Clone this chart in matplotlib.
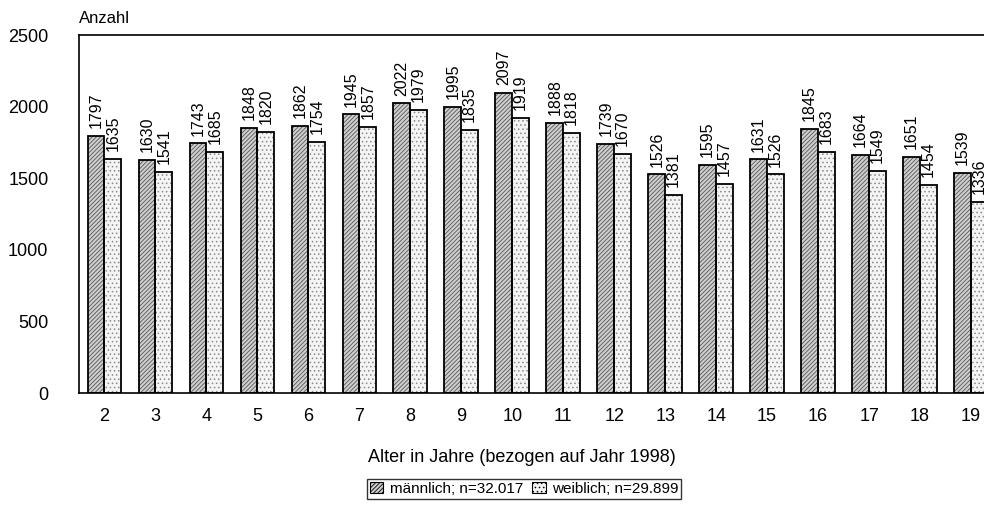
import matplotlib
matplotlib.use("Agg")
import matplotlib.pyplot as plt
import numpy as np

plt.rcParams['font.family'] = ['Liberation Sans', 'DejaVu Sans']
plt.rcParams['hatch.linewidth'] = 0.6

ages = [2, 3, 4, 5, 6, 7, 8, 9, 10, 11, 12, 13, 14, 15, 16, 17, 18, 19]
male = [1797, 1630, 1743, 1848, 1862, 1945, 2022, 1995, 2097, 1888, 1739, 1526, 1595, 1631, 1845, 1664, 1651, 1539]
female = [1635, 1541, 1685, 1820, 1754, 1857, 1979, 1835, 1919, 1818, 1670, 1381, 1457, 1526, 1683, 1549, 1454, 1336]
label_m = "männlich; n=32.017"
label_f = "weiblich; n=29.899"
yticks = [0, 500, 1000, 1500, 2000, 2500]

fig = plt.figure(figsize=(9.84, 5.23), dpi=100)
ax = fig.add_axes([79/984, 130/523, 917.5/984, 358/523])

x = np.arange(len(ages))
w = 0.33
# filled + hatched bars (hatch colour = edgecolor), then black outlines
bm = ax.bar(x - w/2, male, w, facecolor='#cfcfcf', edgecolor='#555555', hatch='////////',
            linewidth=0, label=label_m)
bf = ax.bar(x + w/2, female, w, facecolor='#f4f4f4', edgecolor='#8a8a8a', hatch='....',
            linewidth=0, label=label_f)
ax.bar(x - w/2, male, w, fill=False, edgecolor='black', linewidth=1.3)
ax.bar(x + w/2, female, w, fill=False, edgecolor='black', linewidth=1.3)

for xi, v in zip(x - w/2, male):
    ax.text(xi, v + 55, str(v), rotation=90, ha='center', va='bottom', fontsize=11.5)
for xi, v in zip(x + w/2, female):
    ax.text(xi, v + 55, str(v), rotation=90, ha='center', va='bottom', fontsize=11.5)

ax.set_xlim(-0.5, len(ages) - 0.5)
ax.set_ylim(0, 2500)
ax.set_yticks(yticks)
ax.set_xticks(x)
ax.set_xticklabels([str(a) for a in ages])
ax.tick_params(axis='both', length=0, labelsize=13)
ax.tick_params(axis='x', pad=11)
ax.tick_params(axis='y', pad=22)
for s in ax.spines.values():
    s.set_linewidth(1.2)

ax.text(0, 1.025, "Anzahl", transform=ax.transAxes, fontsize=12, ha='left', va='bottom')
fig.text(522/984, 1 - 458/523, "Alter in Jahre (bezogen auf Jahr 1998)", ha='center', va='center', fontsize=13)

leg = fig.legend(handles=[bm, bf], labels=[label_m, label_f], loc='center',
                 bbox_to_anchor=(524/984, 1 - 489/523), ncol=2, frameon=True,
                 fancybox=False, edgecolor='black', fontsize=11, handlelength=0.9, handleheight=0.7,
                 handletextpad=0.4, columnspacing=0.6, borderpad=0.2, borderaxespad=0)
leg.get_frame().set_linewidth(1.0)
for p in leg.get_patches():
    p.set_linewidth(0.8)
    p.set_edgecolor('black')

fig.savefig("out.png", dpi=100)
